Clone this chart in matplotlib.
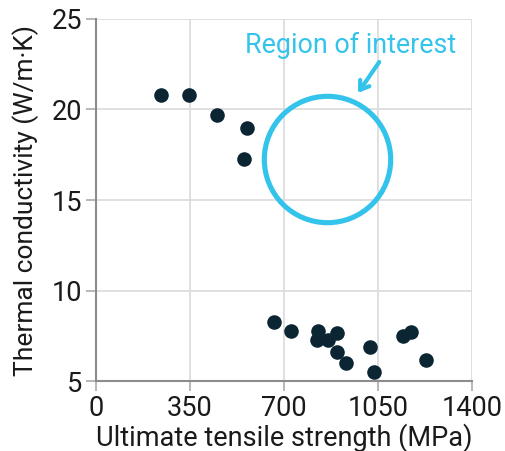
import matplotlib
matplotlib.use("Agg")
import matplotlib.pyplot as plt

plt.rcParams['font.family'] = ['Roboto', 'DejaVu Sans']

uts = [242, 346, 449, 563, 552, 661, 725, 828, 824, 862, 898, 897, 931, 1021, 1035, 1144, 1174, 1227]
tc = [20.8, 20.8, 19.68, 19.0, 17.28, 8.28, 7.76, 7.78, 7.25, 7.28, 7.67, 6.62, 5.98, 6.9, 5.48, 7.5, 7.69, 6.16]

x_ticks = [0, 350, 700, 1050, 1400]
y_ticks = [5, 10, 15, 20, 25]

roi_center = (859, 17.27)
roi_label = "Region of interest"
label_pos = (555, 23.56)
arrow_start = (1054, 22.62)
arrow_end = (975, 20.91)

accent = '#33C3EB'

fig = plt.figure(figsize=(5.05, 4.51), dpi=100)
ax = fig.add_axes([0.190, 0.155, 0.745, 0.803])

ax.scatter(uts, tc, s=110, color='#0B2533', zorder=3, linewidths=0)

ax.plot([roi_center[0]], [roi_center[1]], marker='o', markersize=91,
        markerfacecolor='none', markeredgecolor=accent, markeredgewidth=3.7, zorder=4)

ax.text(label_pos[0], label_pos[1], roi_label, color=accent, fontsize=19.4,
        ha='left', va='center')
ax.annotate('', xy=arrow_end, xytext=arrow_start,
            arrowprops=dict(arrowstyle='->,head_length=0.6,head_width=0.4', color=accent, lw=3.0,
                            shrinkA=0, shrinkB=0))

ax.set_xlim(0, 1400)
ax.set_ylim(5, 25)
ax.set_xticks(x_ticks)
ax.set_yticks(y_ticks)
ax.grid(True, color='#DADADA', lw=1.2)
ax.set_axisbelow(True)
for s in ['top', 'right']:
    ax.spines[s].set_visible(False)
for s in ['left', 'bottom']:
    ax.spines[s].set_color('#8C8C8C')
    ax.spines[s].set_linewidth(1.5)
ax.tick_params(direction='out', length=7, width=1.2, color='#AAAAAA', labelsize=19.5,
               labelcolor='#1A1A1A', pad=3)
ax.set_xlabel('Ultimate tensile strength (MPa)', fontsize=19.5, color='#1A1A1A', labelpad=1)
ax.set_ylabel('Thermal conductivity (W/m·K)', fontsize=19, color='#1A1A1A', labelpad=9)

fig.savefig('out.png', dpi=100)
